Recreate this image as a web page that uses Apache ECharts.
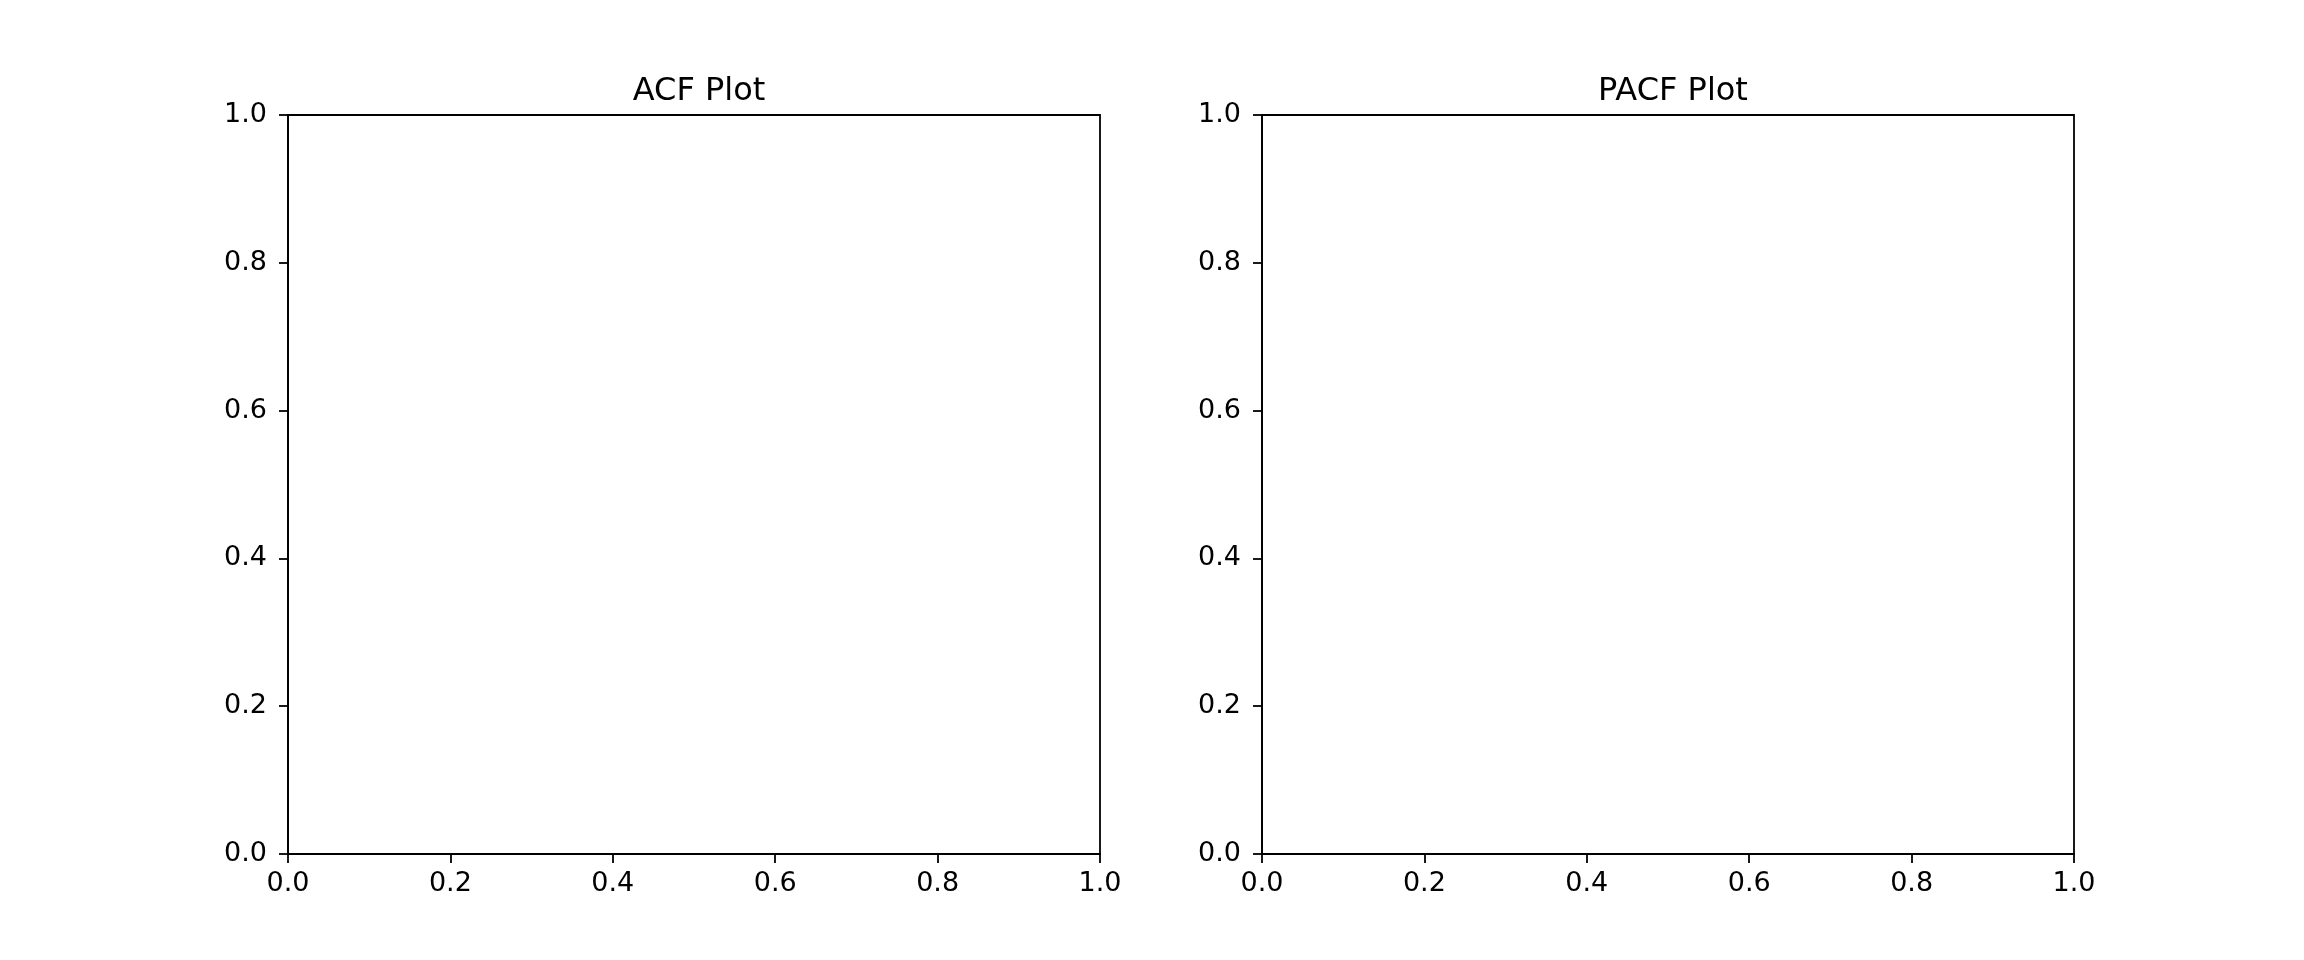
<!DOCTYPE html>
<html>
<head>
<meta charset="utf-8">
<title>ACF / PACF</title>
<script src="https://cdn.jsdelivr.net/npm/echarts@6/dist/echarts.min.js"></script>
<style>
  html, body { margin: 0; padding: 0; background: #fff; }
  #chart { width: 2304px; height: 960px; }
</style>
</head>
<body>
<div id="chart"></div>
<script>
// panel titles
const panelTitles = ['ACF Plot', 'PACF Plot']
// axis range and ticks (both panels are empty)
const axisMin = 0
const axisMax = 1
const tickStep = 0.2
// no data was plotted in either panel
const acfValues = []
const pacfValues = []

const chart = echarts.init(document.getElementById('chart'))
const font = 'DejaVu Sans'

// matplotlib default subplot layout at 2304x960
const grids = [
  { left: 288, top: 115, width: 812, height: 739 },
  { left: 1262, top: 115, width: 812, height: 739 }
]

function axisCommon(gridIndex, labelMargin) {
  return {
    type: 'value',
    gridIndex,
    min: axisMin,
    max: axisMax,
    interval: tickStep,
    splitLine: { show: false },
    axisLine: { show: true, onZero: false, lineStyle: { color: '#000', width: 1.8 } },
    axisTick: { show: true, inside: false, length: 9, lineStyle: { color: '#000', width: 1.8 } },
    axisLabel: {
      margin: labelMargin,
      color: '#000',
      fontFamily: font,
      fontSize: 27,
      formatter: v => v.toFixed(1)
    }
  }
}

const option = {
  backgroundColor: '#fff',
  animation: false,
  title: panelTitles.map((t, i) => ({
    text: t,
    left: grids[i].left + grids[i].width / 2,
    top: 71,
    textAlign: 'center',
    textStyle: { color: '#000', fontFamily: font, fontSize: 32, fontWeight: 'normal' }
  })),
  grid: grids.map(g => ({
    ...g,
    show: true,
    borderColor: '#000',
    borderWidth: 1.8,
    backgroundColor: 'transparent'
  })),
  xAxis: [0, 1].map(i => ({ ...axisCommon(i, 16), position: 'bottom' })),
  yAxis: [0, 1].map(i => ({ ...axisCommon(i, 21), position: 'left' })),
  series: [
    { type: 'scatter', xAxisIndex: 0, yAxisIndex: 0, data: acfValues },
    { type: 'scatter', xAxisIndex: 1, yAxisIndex: 1, data: pacfValues }
  ]
}

chart.setOption(option)
</script>
</body>
</html>
